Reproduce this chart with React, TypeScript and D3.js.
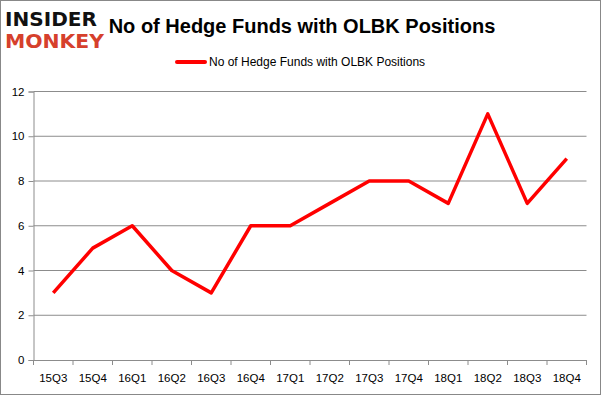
import React, { useRef, useEffect } from "react";
import * as d3 from "d3";

const quarters = ["15Q3", "15Q4", "16Q1", "16Q2", "16Q3", "16Q4", "17Q1", "17Q2", "17Q3", "17Q4", "18Q1", "18Q2", "18Q3", "18Q4"];
const funds = [3, 5, 6, 4, 3, 6, 6, 7, 8, 8, 7, 11, 7, 9];
const yTicks = [0, 2, 4, 6, 8, 10, 12];
const seriesName = "No of Hedge Funds with OLBK Positions";

const W = 601;
const H = 396;
const FONT = "'Liberation Sans', Arial, sans-serif";

const App = () => {
  const svgRef = useRef<SVGSVGElement>(null);

  useEffect(() => {
    const svg = d3.select(svgRef.current);
    svg.selectAll("*").remove();

    const left = 33.5, right = 586.5, top = 91.5, bottom = 360;

    const x = d3.scaleBand().domain(quarters).range([left, right]);
    const y = d3.scaleLinear().domain([0, 12]).range([bottom, top]);

    // frame
    svg.append("rect")
      .attr("x", 0.5).attr("y", 0.5)
      .attr("width", W - 1).attr("height", H - 2)
      .attr("fill", "#fff").attr("stroke", "#888");

    // logo
    svg.append("text")
      .attr("x", 5).attr("y", 26)
      .attr("textLength", 92).attr("lengthAdjust", "spacingAndGlyphs")
      .style("font", `bold 19px 'DejaVu Sans', sans-serif`)
      .attr("fill", "#111").text("INSIDER");
    svg.append("text")
      .attr("x", 5).attr("y", 48)
      .attr("textLength", 99).attr("lengthAdjust", "spacingAndGlyphs")
      .style("font", `bold 19px 'DejaVu Sans', sans-serif`)
      .attr("fill", "#d6402c").text("MONKEY");

    // title
    svg.append("text")
      .attr("x", 302).attr("y", 33)
      .attr("text-anchor", "middle")
      .style("font", `bold 20px ${FONT}`)
      .attr("fill", "#000").text(seriesName);

    // legend
    svg.append("line")
      .attr("x1", 177).attr("x2", 205).attr("y1", 62).attr("y2", 62)
      .attr("stroke", "#ff0000").attr("stroke-width", 4).attr("stroke-linecap", "round");
    svg.append("text")
      .attr("x", 209).attr("y", 66)
      .style("font", `12px ${FONT}`)
      .attr("fill", "#000").text(seriesName);

    // gridlines
    svg.append("g").selectAll("line")
      .data(yTicks.filter((t) => t > 0))
      .enter().append("line")
      .attr("x1", left).attr("x2", right)
      .attr("y1", (d) => y(d)).attr("y2", (d) => y(d))
      .attr("stroke", "#8c8c8c").attr("stroke-width", 1);

    // y axis
    const yAxis = svg.append("g").attr("transform", `translate(${left},0)`)
      .call(d3.axisLeft(y).tickValues(yTicks).tickSize(5).tickPadding(4));
    yAxis.select(".domain").attr("stroke", "#8c8c8c");
    yAxis.selectAll(".tick line").attr("stroke", "#8c8c8c");
    yAxis.selectAll("text").style("font", `11.5px ${FONT}`).attr("fill", "#000");

    // x axis
    const xAxis = svg.append("g").attr("transform", `translate(0,${bottom})`)
      .call(d3.axisBottom(x).tickSize(0).tickPadding(14));
    xAxis.select(".domain").attr("stroke", "#8c8c8c");
    xAxis.selectAll("text").style("font", `11.5px ${FONT}`).attr("fill", "#000");
    svg.append("g").selectAll("line")
      .data(quarters.concat(["end"]))
      .enter().append("line")
      .attr("x1", (d, i) => left + i * x.step())
      .attr("x2", (d, i) => left + i * x.step())
      .attr("y1", bottom).attr("y2", bottom + 5)
      .attr("stroke", "#8c8c8c");

    // series
    const line = d3.line<number>()
      .x((d, i) => (x(quarters[i]) as number) + x.bandwidth() / 2)
      .y((d) => y(d));
    svg.append("path")
      .datum(funds)
      .attr("d", line)
      .attr("fill", "none")
      .attr("stroke", "#ff0000")
      .attr("stroke-width", 3.5)
      .attr("stroke-linejoin", "round");
  }, []);

  return <svg ref={svgRef} width={W} height={H} style={{ display: "block", position: "absolute", left: 0, top: 0 }}></svg>;
};

export default App;
